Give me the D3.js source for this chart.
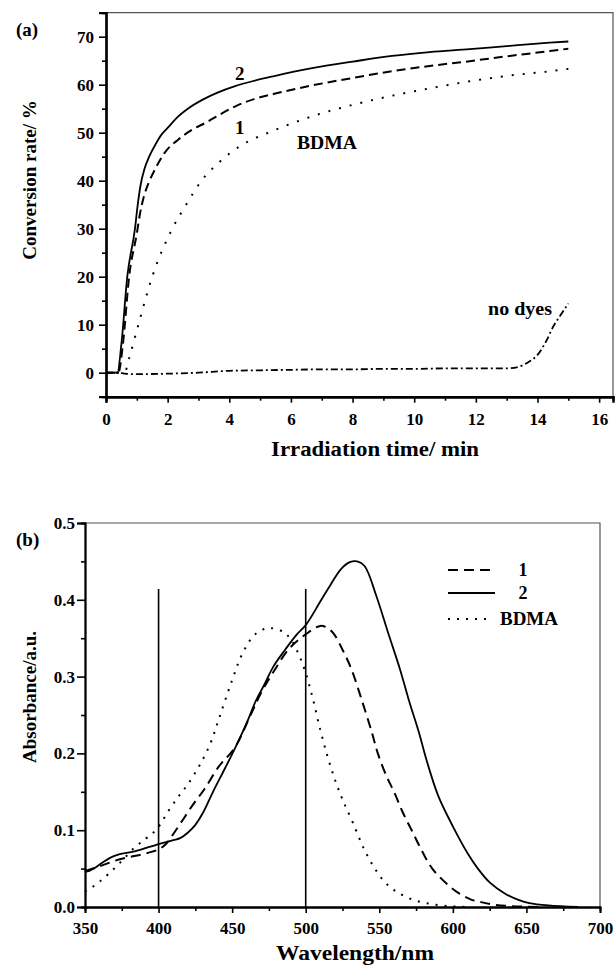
<!DOCTYPE html>
<html><head><meta charset="utf-8">
<script src="https://cdn.jsdelivr.net/npm/d3@7"></script>
<style>
body{margin:0;background:#fff;}
text{font-family:"Liberation Serif","Times New Roman",serif;font-weight:bold;fill:#000;}
</style></head>
<body>
<script>
// ---------- Panel (a) data: conversion rate (%) vs irradiation time (min)
const convDye2 = [[0,0],[0.37,0],[0.5,6],[0.69,20],[0.94,30],[1.02,34.5],[1.12,39],[1.25,42.5],[1.4,45],[1.6,47.5],[1.8,49.6],[2.0,51],[2.28,53],[2.7,55.2],[3.17,57],[3.6,58.3],[4.19,59.7],[4.8,60.8],[5.46,61.8],[6.1,62.7],[6.73,63.5],[8,64.8],[9.28,66],[10.5,66.8],[11.8,67.4],[13.1,68.1],[14.4,68.75],[15,69]];
const convDye1 = [[0,0],[0.4,0],[0.55,6],[0.75,20],[1.0,29],[1.1,33],[1.22,36.5],[1.38,39.5],[1.6,42.5],[1.9,45.8],[2.35,48.6],[2.79,50.6],[3.3,52.3],[3.7,53.8],[4.2,55.5],[4.8,57],[5.46,58.1],[6.73,59.9],[8,61.4],[9.28,62.8],[10.5,63.9],[11.8,64.9],[13.1,66],[14.4,67],[15,67.5]];
const convBDMA = [[0,0],[0.6,0],[0.75,3],[1.05,10],[1.5,20],[2.15,30],[2.6,35],[3.1,40],[3.7,44],[4.3,47],[5.46,50.5],[6.73,53.5],[8,55.8],[9.28,57.7],[10.55,59.3],[11.8,60.7],[13.1,61.9],[14.4,62.8],[15,63.3]];
const convNoDye = [[0,0],[0.4,0],[0.6,-0.2],[1,-0.3],[2,-0.2],[3,0],[4,0.4],[5,0.5],[6,0.6],[7,0.7],[8,0.7],[9,0.8],[10,0.8],[11,0.9],[12,0.9],[13,0.9],[13.4,1.25],[13.7,2.2],[14,3.7],[14.3,6.8],[14.5,9.5],[14.75,12],[15,14.4]];
const timeTicks = [0,2,4,6,8,10,12,14,16];
const convTicks = [0,10,20,30,40,50,60,70];

// ---------- Panel (b) data: absorbance vs wavelength (nm)
const absDye2 = [[350,0.046],[353,0.047],[356,0.05],[362,0.058],[367,0.064],[372,0.068],[385,0.073],[400,0.082],[410,0.087],[415,0.09],[420,0.097],[425,0.107],[430,0.122],[437,0.15],[445,0.18],[452,0.207],[460,0.24],[466,0.268],[472,0.29],[478,0.313],[486,0.335],[494,0.355],[500,0.367],[510,0.398],[517,0.42],[524,0.44],[530,0.449],[535,0.45],[540,0.444],[548,0.405],[556,0.357],[564,0.31],[570,0.27],[577,0.227],[582,0.192],[590,0.145],[600,0.105],[610,0.07],[617,0.05],[625,0.032],[635,0.018],[645,0.009],[652,0.005],[665,0.002],[685,0]];
const absDye1 = [[350,0.047],[360,0.053],[370,0.06],[380,0.065],[390,0.069],[400,0.075],[405,0.082],[410,0.095],[417,0.115],[424,0.135],[431,0.153],[441,0.183],[452,0.208],[463,0.252],[470,0.28],[479,0.309],[489,0.337],[500,0.355],[510,0.366],[515,0.363],[519,0.356],[525,0.335],[531,0.31],[538,0.27],[545,0.227],[549,0.2],[555,0.17],[560,0.15],[566,0.123],[572,0.1],[579,0.073],[586,0.05],[596,0.03],[604,0.018],[612,0.01],[620,0.006],[628,0.003],[640,0.001],[660,0]];
const absBDMA = [[350,0.02],[355,0.026],[360,0.033],[366,0.043],[375,0.06],[384,0.078],[392,0.09],[399,0.102],[407,0.126],[414,0.145],[420,0.16],[428,0.185],[435,0.212],[441,0.245],[449,0.29],[457,0.33],[465,0.354],[472,0.362],[477,0.363],[485,0.358],[490,0.348],[495,0.33],[500,0.305],[505,0.27],[510,0.23],[515,0.195],[520,0.165],[525,0.14],[532,0.11],[540,0.074],[547,0.05],[553,0.034],[560,0.022],[572,0.01],[585,0.004],[598,0.001],[610,0]];
const lampLines = [400, 500];
const lampTop = 0.414;
const waveTicks = [350,400,450,500,550,600,650,700];
const absTicks = [0.0,0.1,0.2,0.3,0.4,0.5];
const legendLabels = ["1","2","BDMA"];

const svg = d3.select("body").append("svg").attr("width",615).attr("height",966);
svg.append("rect").attr("width",615).attr("height",966).attr("fill","#fff");

function drawFrame(x0,x1,y0,y1){
  svg.append("path").attr("d",`M${x0},${y0}H${x1}V${y1}`).attr("fill","none").attr("stroke","#555").attr("stroke-width",1.2);
}
function styleAxis(g,w){
  g.select(".domain").attr("stroke","#000").attr("stroke-width",w);
  g.selectAll(".tick line").attr("stroke","#000").attr("stroke-width",1.6);
  g.selectAll("text").attr("font-size",17).attr("font-family","Liberation Serif").attr("font-weight","bold").attr("fill","#000");
}

// ===== Panel (a)
const xa = d3.scaleLinear().domain([0,16.45]).range([106,613]);
const ya = d3.scaleLinear().domain([-5,75]).range([396.7,12.7]);
drawFrame(106,613,12.7,396.7);

let g = svg.append("g").attr("transform","translate(0,396.7)")
  .call(d3.axisBottom(xa).tickValues(d3.range(1,17,2)).tickSize(4).tickFormat(""));
styleAxis(g,2.4);
g = svg.append("g").attr("transform","translate(0,396.7)")
  .call(d3.axisBottom(xa).tickValues(timeTicks).tickSize(6).tickPadding(10).tickFormat(d3.format("d")));
styleAxis(g,2.4);
g = svg.append("g").attr("transform","translate(106,0)")
  .call(d3.axisLeft(ya).tickValues(d3.range(-5,80,10)).tickSize(4).tickFormat(""));
styleAxis(g,2.2);
g = svg.append("g").attr("transform","translate(106,0)")
  .call(d3.axisLeft(ya).tickValues(convTicks).tickSize(7).tickPadding(5).tickFormat(d3.format("d")));
styleAxis(g,2.2);

const lineA = d3.line().x(d=>xa(d[0])).y(d=>ya(d[1])).curve(d3.curveMonotoneX);
svg.append("path").datum(convNoDye).attr("d",lineA).attr("fill","none").attr("stroke","#000").attr("stroke-width",1.8).attr("stroke-dasharray","7,3,2,3");
svg.append("path").datum(convBDMA).attr("d",lineA).attr("fill","none").attr("stroke","#000").attr("stroke-width",2).attr("stroke-dasharray","2,9");
svg.append("path").datum(convDye1).attr("d",lineA).attr("fill","none").attr("stroke","#000").attr("stroke-width",2).attr("stroke-dasharray","9,5");
svg.append("path").datum(convDye2).attr("d",lineA).attr("fill","none").attr("stroke","#000").attr("stroke-width",1.8);

svg.append("text").attr("x",16).attr("y",36).attr("font-size",19).text("(a)");
svg.append("text").attr("x",235).attr("y",80).attr("font-size",19).text("2");
svg.append("text").attr("x",235).attr("y",134).attr("font-size",19).text("1");
svg.append("text").attr("x",297).attr("y",149).attr("font-size",18).attr("textLength",60).attr("lengthAdjust","spacingAndGlyphs").text("BDMA");
svg.append("text").attr("x",488).attr("y",315).attr("font-size",18).attr("textLength",64).attr("lengthAdjust","spacingAndGlyphs").text("no dyes");
svg.append("text").attr("x",271).attr("y",456).attr("font-size",20).attr("textLength",208).attr("lengthAdjust","spacingAndGlyphs").text("Irradiation time/ min");
svg.append("text").attr("transform","translate(36,180) rotate(-90)").attr("text-anchor","middle").attr("font-size",19).text("Conversion rate/ %");

// ===== Panel (b)
const xb = d3.scaleLinear().domain([350,700]).range([85,600]);
const yb = d3.scaleLinear().domain([0,0.5]).range([907,523]);
drawFrame(85,600,523,907);

g = svg.append("g").attr("transform","translate(0,907)")
  .call(d3.axisBottom(xb).tickValues(d3.range(375,700,50)).tickSize(4).tickFormat(""));
styleAxis(g,1.8);
g = svg.append("g").attr("transform","translate(0,907)")
  .call(d3.axisBottom(xb).tickValues(waveTicks).tickSize(6).tickPadding(9).tickFormat(d3.format("d")));
styleAxis(g,1.8);
g = svg.append("g").attr("transform","translate(85,0)")
  .call(d3.axisLeft(yb).tickValues(d3.range(0.05,0.5,0.1)).tickSize(4).tickFormat(""));
styleAxis(g,1.8);
g = svg.append("g").attr("transform","translate(85,0)")
  .call(d3.axisLeft(yb).tickValues(absTicks).tickSize(8).tickPadding(2).tickFormat(d3.format(".1f")));
styleAxis(g,1.8);

svg.selectAll(".lamp").data(lampLines).enter().append("line").attr("class","lamp")
  .attr("x1",d=>xb(d)).attr("x2",d=>xb(d)).attr("y1",yb(0)).attr("y2",yb(lampTop))
  .attr("stroke","#000").attr("stroke-width",1.6);

const lineB = d3.line().x(d=>xb(d[0])).y(d=>yb(d[1])).curve(d3.curveCatmullRom.alpha(0.5));
svg.append("path").datum(absBDMA).attr("d",lineB).attr("fill","none").attr("stroke","#000").attr("stroke-width",2).attr("stroke-dasharray","2,7");
svg.append("path").datum(absDye1).attr("d",lineB).attr("fill","none").attr("stroke","#000").attr("stroke-width",2).attr("stroke-dasharray","10,6");
svg.append("path").datum(absDye2).attr("d",lineB).attr("fill","none").attr("stroke","#000").attr("stroke-width",1.8);

// legend
const legY = [570,593,619];
const legDash = ["10,6",null,"2,7"];
const legX2 = [490,495,492];
legendLabels.forEach((lab,i)=>{
  const l = svg.append("line").attr("x1",448).attr("x2",legX2[i]).attr("y1",legY[i]).attr("y2",legY[i])
    .attr("stroke","#000").attr("stroke-width",2);
  if(legDash[i]) l.attr("stroke-dasharray",legDash[i]);
  const t = svg.append("text").attr("y",legY[i]+6).attr("font-size",18).text(lab);
  if(i<2) t.attr("x",523).attr("text-anchor","middle");
  else t.attr("x",500).attr("textLength",58).attr("lengthAdjust","spacingAndGlyphs");
});

svg.append("text").attr("x",16).attr("y",546).attr("font-size",19).text("(b)");
svg.append("text").attr("x",276).attr("y",960).attr("font-size",20).attr("textLength",158).attr("lengthAdjust","spacingAndGlyphs").text("Wavelength/nm");
svg.append("text").attr("transform","translate(36,697) rotate(-90)").attr("text-anchor","middle").attr("font-size",19).text("Absorbance/a.u.");
</script>
</body></html>
